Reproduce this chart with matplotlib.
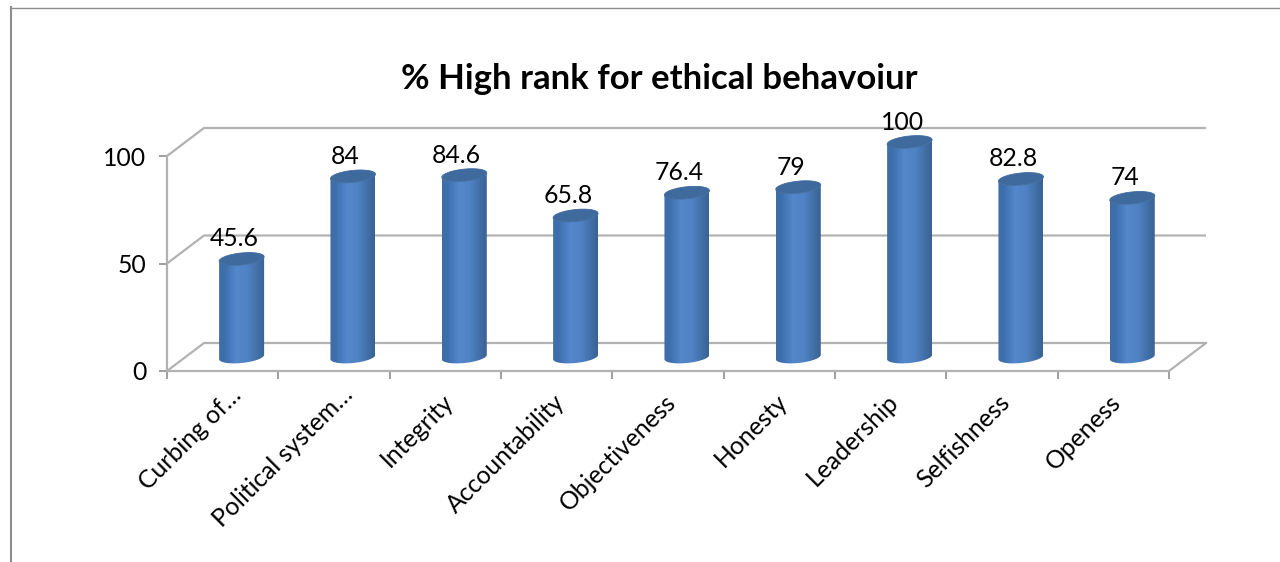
import numpy as np
import matplotlib.pyplot as plt
from matplotlib.colors import LinearSegmentedColormap
from matplotlib.patches import Polygon

categories = ['Curbing of...', 'Political system...', 'Integrity', 'Accountability',
              'Objectiveness', 'Honesty', 'Leadership', 'Selfishness', 'Openess']
values = [45.6, 84, 84.6, 65.8, 76.4, 79, 100, 82.8, 74]
value_labels = ['45.6', '84', '84.6', '65.8', '76.4', '79', '100', '82.8', '74']
y_ticks = [0, 50, 100]

W, H = 1280, 562
plt.rcParams['font.family'] = ['Lato', 'DejaVu Sans']

fig = plt.figure(figsize=(W / 100, H / 100), dpi=100, facecolor='white')

# frame of the pasted chart, only top and left are visible
fig.add_artist(plt.Line2D([10.5 / W, 10.5 / W], [0, 1 - 7 / H], color='#8c8c8c', lw=1.5))
fig.add_artist(plt.Line2D([10 / W, 1], [1 - 7.5 / H, 1 - 7.5 / H], color='#8c8c8c', lw=1.0))

# axes = front plane of the fake 3d box
left, right, bottom, top = 167, 1169, 371, 156
ax = fig.add_axes([left / W, 1 - bottom / H, (right - left) / W, (bottom - top) / H])
ax.patch.set_visible(False)

n = len(categories)
px_x = (right - left) / n
px_y = (bottom - top) / 100.0
depth_x = 37 / px_x
depth_y = 28 / px_y

grid_col = '#b2b2b2'
grid_lw = 1.6

for t in y_ticks:
    ax.plot([0, depth_x, n + depth_x], [t, t + depth_y, t + depth_y], color=grid_col,
            lw=grid_lw, clip_on=False, zorder=1, solid_capstyle='butt')
ax.plot([n, n + depth_x], [0, depth_y], color=grid_col, lw=grid_lw, clip_on=False, zorder=1)

cmap = LinearSegmentedColormap.from_list('cyl', [(0, '#3f6ea6'), (0.12, '#3d6fae'), (0.38, '#5487cb'),
                                                 (0.62, '#5083c4'), (0.88, '#3f6ca3'), (1, '#3a6391')])
grad = np.linspace(0, 1, 128).reshape(1, -1)

bar_w = 45 / px_x
tilt = 2.2 / px_y
semi = 6.0 / px_y
base = depth_y / 2
t_front = np.linspace(0, np.pi, 40)
t_all = np.linspace(0, 2 * np.pi, 80)

for i, v in enumerate(values):
    cx = i + 0.5 + depth_x / 2 + 0.004
    xs = cx + bar_w / 2 * np.cos(t_front)
    # front rim of bottom, then back along the front rim of the top
    low = base + tilt * np.cos(t_front) - semi * np.sin(t_front)
    up = base + v + tilt * np.cos(t_all) + semi * np.sin(t_all)
    px = np.concatenate([xs, xs[::-1]])
    py = np.concatenate([low, base + v + tilt * np.cos(t_front[::-1]) - semi * np.sin(t_front[::-1])])
    body = Polygon(np.column_stack([px, py]), closed=True, fc='none', ec='none')
    ax.add_patch(body)
    im = ax.imshow(grad, extent=[cx - bar_w / 2, cx + bar_w / 2, base - 10, base + v + 10],
                   aspect='auto', cmap=cmap, zorder=3, interpolation='bilinear')
    im.set_clip_box(fig.bbox)
    im.set_clip_path(body)
    body.set_clip_on(False)
    ax.fill(cx + bar_w / 2 * np.cos(t_all), up, color='#3f6a9e', lw=0.6, zorder=4, clip_on=False)
    ax.annotate(value_labels[i], (cx, base + v), xytext=(-7.5 * 0.72, 20 * 0.72), textcoords='offset points',
                ha='center', va='center', fontsize=17.8, color='black', zorder=5, annotation_clip=False)

ax.set_xlim(0, n)
ax.set_ylim(0, 100)

for s in ['top', 'right']:
    ax.spines[s].set_visible(False)
for s in ['left', 'bottom']:
    ax.spines[s].set_color(grid_col)
    ax.spines[s].set_linewidth(grid_lw)

ax.set_yticks(y_ticks)
ax.set_xticks(np.arange(n + 1))
ax.set_xticklabels([])
ax.tick_params(axis='both', color='#8f8f8f', width=1.2, length=6)
ax.tick_params(axis='y', labelsize=17.8, pad=9)

for i, c in enumerate(categories):
    # the cut-off names sit further right than the full ones
    if c.endswith('...'):
        off = (7, -12)
    else:
        off = (-4, -19)
    ax.annotate(c.replace('...', '\u2026'), (i + 0.5, 0), xytext=(off[0] * 0.72, off[1] * 0.72),
                textcoords='offset points', rotation=45, rotation_mode='anchor',
                ha='right', va='top', fontsize=17.8, annotation_clip=False)

fig.text(659 / W, 1 - 79 / H, '% High rank for ethical behavoiur', ha='center', va='center',
         fontsize=25, fontweight='bold')

fig.savefig('out.png', dpi=100)
